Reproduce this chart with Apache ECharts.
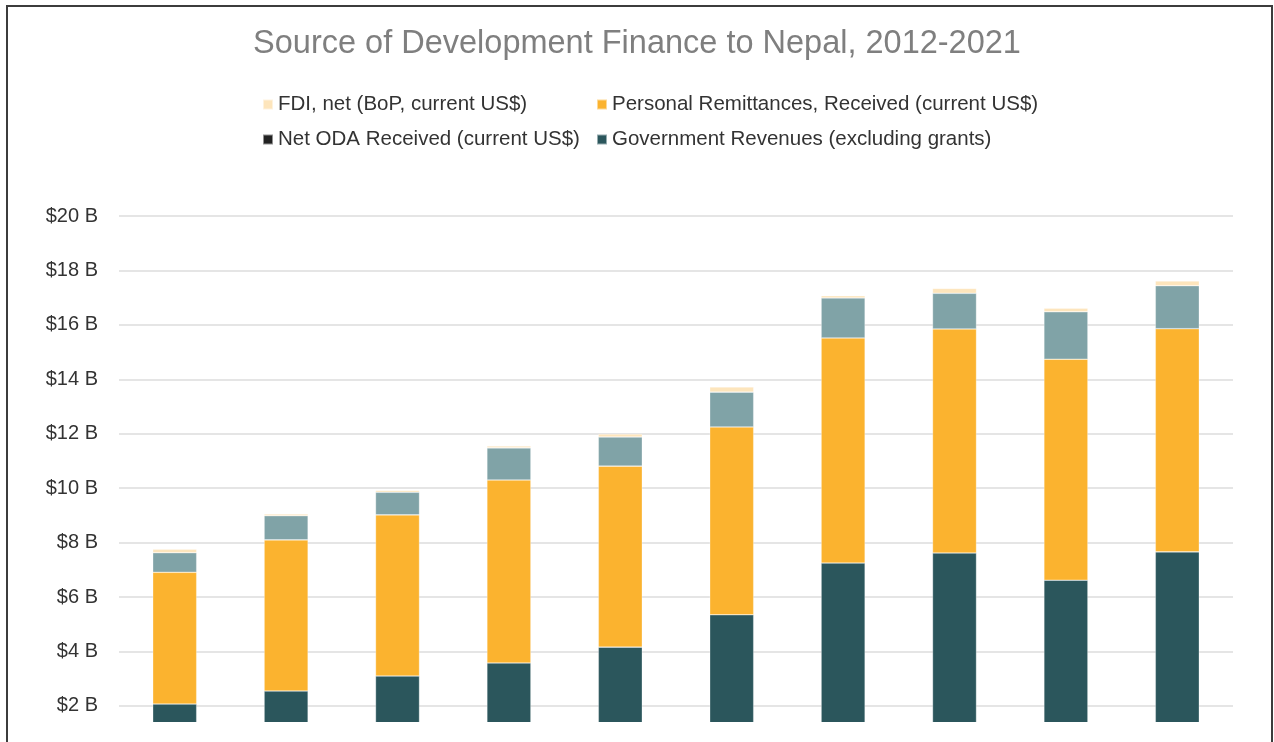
<!DOCTYPE html>
<html>
<head>
<meta charset="utf-8">
<script src="https://cdn.jsdelivr.net/npm/echarts@6/dist/echarts.min.js"></script>
<style>
  html, body { margin: 0; padding: 0; background: #fff; width: 1274px; height: 742px; overflow: hidden; }
  #chart { position: absolute; left: 0; top: 0; width: 1274px; height: 722px; }
  #frame { position: absolute; left: 6px; top: 5px; width: 1263px; height: 800px;
           border-left: 2px solid #3c3c3c; border-top: 2px solid #3c3c3c; border-right: 2px solid #3c3c3c;
           pointer-events: none; }
</style>
</head>
<body>
<div id="chart"></div>
<div id="frame"></div>
<script>
// Nepal development finance by source, billions of current US$
const years = ['2012', '2013', '2014', '2015', '2016', '2017', '2018', '2019', '2020', '2021'];
const govRevenue  = [2.07, 2.55, 3.10, 3.58, 4.16, 5.35, 7.25, 7.62, 6.62, 7.66];
const remittances = [4.84, 5.55, 5.92, 6.72, 6.65, 6.90, 8.27, 8.23, 8.12, 8.20];
const netOda      = [0.72, 0.89, 0.83, 1.18, 1.07, 1.28, 1.47, 1.31, 1.74, 1.58];
const fdiNet      = [0.13, 0.06, 0.07, 0.07, 0.11, 0.19, 0.08, 0.18, 0.13, 0.17];
const yTicks = { min: 0, max: 20, interval: 2 };

const NAMES = {
  fdi: 'FDI, net (BoP, current US$)',
  rem: 'Personal Remittances, Received (current US$)',
  oda: 'Net ODA Received (current US$)',
  gov: 'Government Revenues (excluding grants)'
};
const COLORS = { fdi: '#FDE5BC', rem: '#FBB32F', oda: '#80A3A7', gov: '#2B565C' };
const FONT = '"Liberation Sans", Arial, sans-serif';

const legendCommon = {
  orient: 'vertical',
  top: 94,
  padding: 0,
  itemWidth: 10,
  itemHeight: 10,
  itemGap: 14,
  itemTextGap: 5,
  icon: 'rect',
  selectedMode: false,
  textStyle: { fontFamily: FONT, fontSize: 20.5, color: '#333' }
};

function barSeries(key, values) {
  return {
    name: NAMES[key],
    type: 'bar',
    stack: 'total',
    barWidth: 44,
    data: values,
    itemStyle: { color: COLORS[key], borderColor: 'rgba(255,255,255,0.5)', borderWidth: 0.6 },
    emphasis: { disabled: true }
  };
}

const chart = echarts.init(document.getElementById('chart'), null, { renderer: 'canvas' });
chart.setOption({
  animation: false,
  backgroundColor: '#fff',
  title: {
    text: 'Source of Development Finance to Nepal, 2012-2021',
    left: 'center',
    top: 23,
    textStyle: { fontFamily: FONT, fontSize: 32.5, fontWeight: 'normal', color: '#7f7f7f' }
  },
  legend: [
    Object.assign({}, legendCommon, {
      left: 262,
      data: [
        { name: NAMES.fdi },
        { name: NAMES.oda, itemStyle: { color: '#222' } }
      ]
    }),
    Object.assign({}, legendCommon, {
      left: 596,
      data: [{ name: NAMES.rem }, { name: NAMES.gov }]
    })
  ],
  grid: { left: 119, right: 41, top: 216, height: 544.4, outerBoundsMode: 'none', containLabel: false },
  xAxis: {
    type: 'category',
    data: years,
    axisLine: { show: false },
    axisTick: { show: false },
    axisLabel: { show: false }
  },
  yAxis: {
    type: 'value',
    min: yTicks.min,
    max: yTicks.max,
    interval: yTicks.interval,
    axisLine: { show: false },
    axisTick: { show: false },
    splitLine: { lineStyle: { color: '#DCDCDC', width: 1.5 } },
    axisLabel: {
      margin: 21,
      fontFamily: FONT,
      fontSize: 20,
      color: '#333',
      formatter: v => '$' + v + ' B'
    }
  },
  series: [
    barSeries('gov', govRevenue),
    barSeries('rem', remittances),
    barSeries('oda', netOda),
    barSeries('fdi', fdiNet)
  ]
});
</script>
</body>
</html>
